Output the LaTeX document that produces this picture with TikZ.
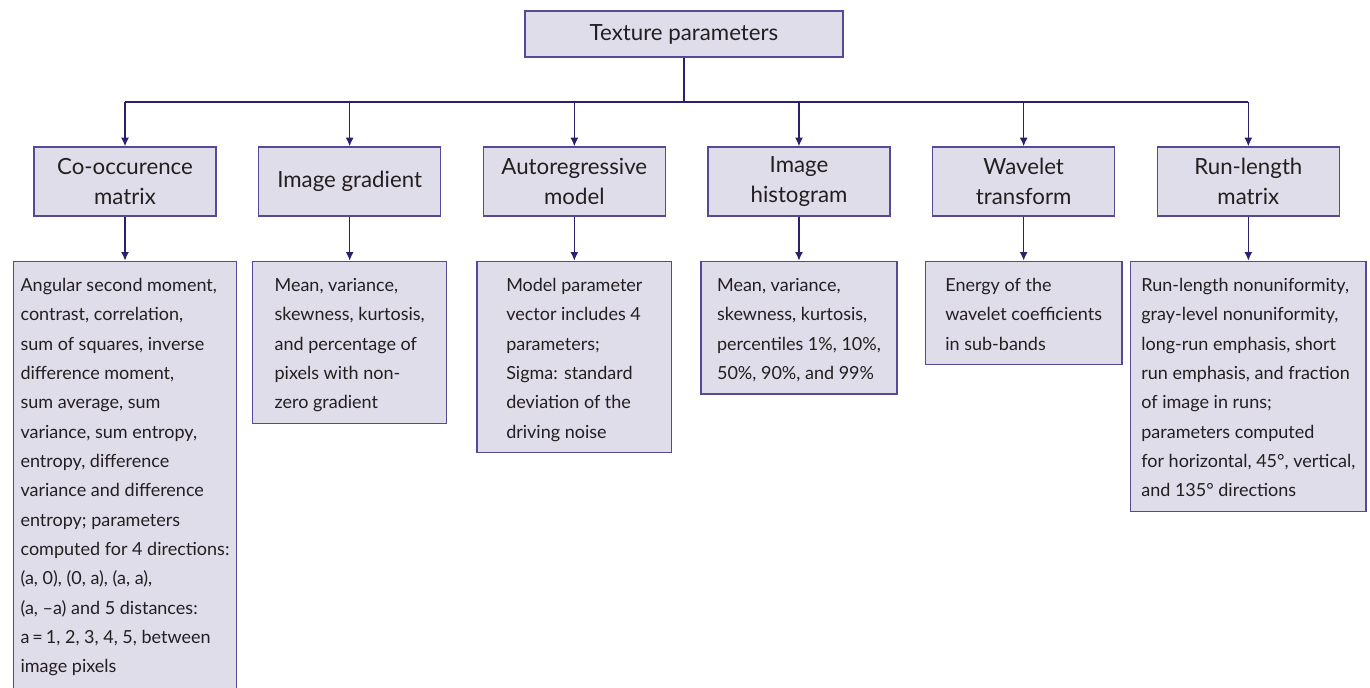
\documentclass[tikz,border=0pt]{standalone}
\usepackage{fontspec}
\setmainfont{Lato}
\usepackage{tikz}
\usetikzlibrary{arrows.meta,positioning}
\definecolor{lila}{RGB}{224,221,234}
\definecolor{borde}{RGB}{88,72,150}
\definecolor{flecha}{RGB}{46,30,110}
\definecolor{tinta}{RGB}{35,31,32}
\newcommand{\arriba}{\rule{0pt}{18pt}}

\begin{document}
\begin{tikzpicture}[
    x=0.75pt,y=-0.75pt,
    node distance=31pt and 31pt,
    root/.style={draw=borde,line width=1pt,fill=lila,text=tinta,align=center,minimum width=238.5pt,minimum height=34.5pt,font=\fontsize{16.7}{22}\selectfont},
    cat/.style={draw=borde,line width=1pt,fill=lila,text=tinta,align=center,minimum width=136.5pt,minimum height=51.75pt,inner sep=0pt,font=\fontsize{16.7}{22}\selectfont},
    detail/.style={draw=borde,line width=1pt,fill=lila,text=tinta,align=left,anchor=north,inner xsep=#1,inner ysep=4.5pt,
        font=\fontsize{13.5}{22}\selectfont,execute at end node={\rule[-6.6pt]{0pt}{6.6pt}}},
    line/.style={-{Latex[length=6.5pt,width=6pt]},draw=flecha,line width=1.1pt}
]
    \useasboundingbox (0,0) rectangle (1370,687);

    \node[root] (tex) at (684,34) {Texture parameters};
    \coordinate (bus) at (684,102);

    \node[cat] (cooc) at (125,181.5) {Co-occurence\\matrix};
    \node[cat,right=of cooc] (grad) {Image gradient};
    \node[cat,right=of grad] (auto) {Autoregressive\\model};
    \node[cat,right=of auto] (hist) {Image\\histogram};
    \node[cat,right=of hist] (wave) {Wavelet\\transform};
    \node[cat,right=of wave] (runl) {Run-length\\matrix};

    \node[detail=5.5pt,below=33pt of cooc] (dcooc) {\arriba Angular second moment,\\contrast, correlation,\\sum of squares, inverse\\difference moment,\\sum average, sum\\variance, sum entropy,\\entropy, difference\\variance and difference\\entropy; parameters\\computed for 4 directions:\\(a, 0), (0, a), (a, a),\\(a, –a) and 5 distances:\\a\,=\,1, 2, 3, 4, 5, between\\image pixels\rule[-16pt]{0pt}{16pt}};
    \node[detail=16.5pt,below=33pt of grad] (dgrad) {\arriba Mean, variance,\\skewness, kurtosis,\\and percentage of\\pixels with non-\\zero gradient};
    \node[detail=22pt,below=33pt of auto] (dauto) {\arriba Model parameter\\vector includes 4\\parameters;\\Sigma: standard\\deviation of the\\driving noise};
    \node[detail=12pt,below=33pt of hist] (dhist) {\arriba Mean, variance,\\skewness, kurtosis,\\percentiles 1\%, 10\%,\\50\%, 90\%, and 99\%};
    \node[detail=15pt,below=33pt of wave] (dwave) {\arriba Energy of the\\wavelet coefficients\\in sub-bands};
    \node[detail=8pt,below=33pt of runl] (drunl) {\arriba Run-length nonuniformity,\\gray-level nonuniformity,\\long-run emphasis, short\\run emphasis, and fraction\\of image in runs;\\parameters computed\\for horizontal, 45°, vertical,\\and 135° directions};

    \draw[draw=flecha,line width=1.1pt] (tex.south) -- (bus);
    \draw[draw=flecha,line width=1.1pt] (bus -| cooc) -- (bus -| runl);
    \draw[line] (bus -| cooc) -- (cooc);
    \draw[line] (bus -| grad) -- (grad);
    \draw[line] (bus -| auto) -- (auto);
    \draw[line] (bus -| hist) -- (hist);
    \draw[line] (bus -| wave) -- (wave);
    \draw[line] (bus -| runl) -- (runl);

    \draw[line] (cooc) -- (dcooc);
    \draw[line] (grad) -- (dgrad);
    \draw[line] (auto) -- (dauto);
    \draw[line] (hist) -- (dhist);
    \draw[line] (wave) -- (dwave);
    \draw[line] (runl) -- (drunl);
\end{tikzpicture}
\end{document}
